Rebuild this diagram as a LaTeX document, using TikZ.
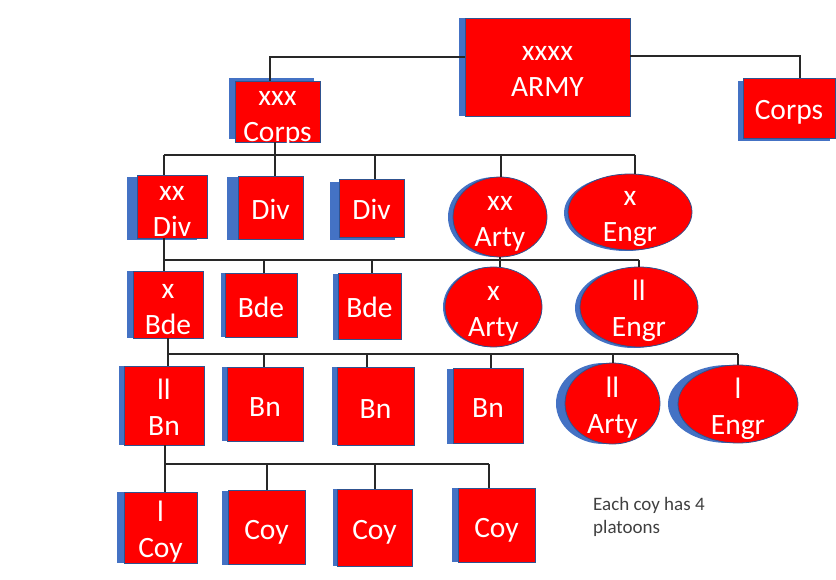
\documentclass[tikz,border=0pt]{standalone}
\usepackage{fontspec}
\setmainfont{Carlito}
\usetikzlibrary{shapes.geometric,shadows}
\definecolor{unitred}{RGB}{255,0,0}
\definecolor{shadowblue}{RGB}{68,114,196}
\definecolor{edgeblue}{RGB}{47,82,143}
\definecolor{linegray}{RGB}{40,40,40}
\definecolor{notegray}{RGB}{64,64,64}
\newcommand{\tl}[1]{\rule{0pt}{30pt}#1}
\newcommand{\bl}[1]{#1\rule[-6pt]{0pt}{0pt}}
\tikzset{
  unitlabel/.style={text=white, align=center, inner sep=0pt,
    font=\fontsize{29.5}{36}\selectfont},
  unitbase/.style={fill=unitred, draw=edgeblue, line width=0.8pt, inner sep=0pt},
  unitbox/.style={rectangle, unitbase, minimum width=#1},
  unitoval/.style={ellipse, unitbase, minimum width=#1},
  txt/.style={label={[unitlabel]center:{#1}}},
  sh/.style 2 args={general shadow={fill=shadowblue, shadow xshift=#1pt, shadow yshift=#2pt}},
  link/.style={draw=linegray, line width=1.3pt},
  note/.style={text=notegray, align=left, anchor=north west, inner sep=0pt,
    font=\fontsize{19}{23.5}\selectfont}
}
\begin{document}
\begin{tikzpicture}[x=1pt,y=-1pt]
\useasboundingbox (0,0) rectangle (836,580);
% level 0/1
\node[unitbox=165pt, minimum height=98pt, sh={-6}{0}, txt={\tl{xxxx}\\\bl{ARMY}}] (army) at (547.5,67) {};
\node[unitbox=85pt, minimum height=61pt, sh={-6}{3}, txt={\tl{xxx}\\\bl{Corps}}] (corpsA) at (277.5,111.5) {};
\node[unitbox=92pt, minimum height=60pt, sh={-5}{-3}, txt={\bl{\tl{Corps}}}] (corpsB) at (789,108) {};
% level 2
\node[unitbox=70pt, minimum height=63pt, sh={-10}{-2}, txt={\tl{xx}\\\bl{Div}}] (divA) at (172,206.5) {};
\node[unitbox=65pt, minimum height=63pt, sh={-11}{-1}, txt={\bl{\tl{Div}}}] (divB) at (270.5,207.5) {};
\node[unitbox=65pt, minimum height=58pt, sh={-9}{-3}, txt={\bl{\tl{Div}}}] (divC) at (371.5,208) {};
\node[unitoval=94pt, minimum height=80pt, sh={-5}{0}, txt={\tl{xx}\\\bl{Arty}}] (artyA) at (500,217) {};
\node[unitoval=124pt, minimum height=76pt, sh={-4}{-1}, txt={\tl{x}\\\bl{Engr}}] (engrA) at (630,212) {};
% level 3
\node[unitbox=70pt, minimum height=67pt, sh={-6}{0}, txt={\tl{x}\\\bl{Bde}}] (bdeA) at (168,304.5) {};
\node[unitbox=72pt, minimum height=64pt, sh={-4}{0}, txt={\bl{\tl{Bde}}}] (bdeB) at (261,305) {};
\node[unitbox=63pt, minimum height=66pt, sh={-5}{-1}, txt={\bl{\tl{Bde}}}] (bdeC) at (369.5,306) {};
\node[unitoval=97pt, minimum height=80pt, sh={-2}{0}, txt={\tl{x}\\\bl{Arty}}] (artyB) at (493.5,307) {};
\node[unitoval=118pt, minimum height=80pt, sh={-5}{-1}, txt={\tl{ll}\\\bl{Engr}}] (engrB) at (639,307) {};
% level 4
\node[unitbox=80pt, minimum height=79pt, sh={-5}{0}, txt={\tl{ll}\\\bl{Bn}}] (bnA) at (164,405.5) {};
\node[unitbox=76pt, minimum height=74pt, sh={-5}{0}, txt={\bl{\tl{Bn}}}] (bnB) at (265,404) {};
\node[unitbox=77pt, minimum height=78pt, sh={-5}{0}, txt={\bl{\tl{Bn}}}] (bnC) at (375.5,406) {};
\node[unitbox=70pt, minimum height=75pt, sh={-6}{-1}, txt={\bl{\tl{Bn}}}] (bnD) at (488,405.5) {};
\node[unitoval=95pt, minimum height=81pt, sh={-9}{0}, txt={\tl{ll}\\\bl{Arty}}] (artyC) at (612.5,403.5) {};
\node[unitoval=120pt, minimum height=78pt, sh={-10}{0}, txt={\tl{l}\\\bl{Engr}}] (engrC) at (738,404) {};
% level 5
\node[unitbox=73pt, minimum height=71pt, sh={-7}{0}, txt={\tl{l}\\\bl{Coy}}] (coyA) at (160.5,527.5) {};
\node[unitbox=77pt, minimum height=74pt, sh={-6}{-1}, txt={\bl{\tl{Coy}}}] (coyB) at (266.5,527) {};
\node[unitbox=75pt, minimum height=77pt, sh={-4}{0}, txt={\bl{\tl{Coy}}}] (coyC) at (374.5,527.5) {};
\node[unitbox=77pt, minimum height=74pt, sh={-6}{0}, txt={\bl{\tl{Coy}}}] (coyD) at (496.5,525) {};
\node[note] (platoons) at (593,497) {Each coy has 4\\platoons};
% connectors: army
\coordinate (topL) at (270,57);
\coordinate (topR) at (800,56);
\draw[link] (army.west |- topL) -- (topL) -- (topL |- corpsA.north);
\draw[link] (army.east |- topR) -- (topR) -- (topR |- corpsB.north);
% corps bus
\coordinate (c1) at (164,155);
\coordinate (c2) at (635,155);
\draw[link] (corpsA.south -| 275,0) -- (divB.north -| 275,0);
\draw[link] (c1) -- (c2);
\draw[link] (c1) -- (c1 |- divA.north);
\draw[link] (c2) -- (c2 |- engrA.north);
\draw[link] (375,155) -- (divC.north -| 375,0);
\draw[link] (501,155) -- (artyA.north -| 501,0);
% div bus
\coordinate (d1) at (164,260);
\coordinate (d2) at (639,260);
\draw[link] (divA.south -| d1) -- (d1 |- bdeA.north);
\draw[link] (d1) -- (d2);
\draw[link] (d2) -- (d2 |- engrB.north);
\draw[link] (264,260) -- (bdeB.north -| 264,0);
\draw[link] (372,260) -- (bdeC.north -| 372,0);
\draw[link] (artyA.south) -- (artyB.north -| artyA.south);
% bde bus
\coordinate (e1) at (168,354);
\coordinate (e2) at (738,354);
\draw[link] (bdeA.south -| e1) -- (e1 |- bnA.north);
\draw[link] (e1) -- (e2);
\draw[link] (e2) -- (e2 |- engrC.north);
\draw[link] (264,354) -- (bnB.north -| 264,0);
\draw[link] (367,354) -- (bnC.north -| 367,0);
\draw[link] (491,354) -- (bnD.north -| 491,0);
\draw[link] (613,354) -- (artyC.north -| 613,0);
% bn bus
\coordinate (f1) at (165,464);
\coordinate (f2) at (489,464);
\draw[link] (bnA.south -| f1) -- (f1 |- coyA.north);
\draw[link] (f1) -- (f2);
\draw[link] (f2) -- (f2 |- coyD.north);
\draw[link] (267,464) -- (coyB.north -| 267,0);
\draw[link] (375,464) -- (coyC.north -| 375,0);
\end{tikzpicture}
\end{document}
